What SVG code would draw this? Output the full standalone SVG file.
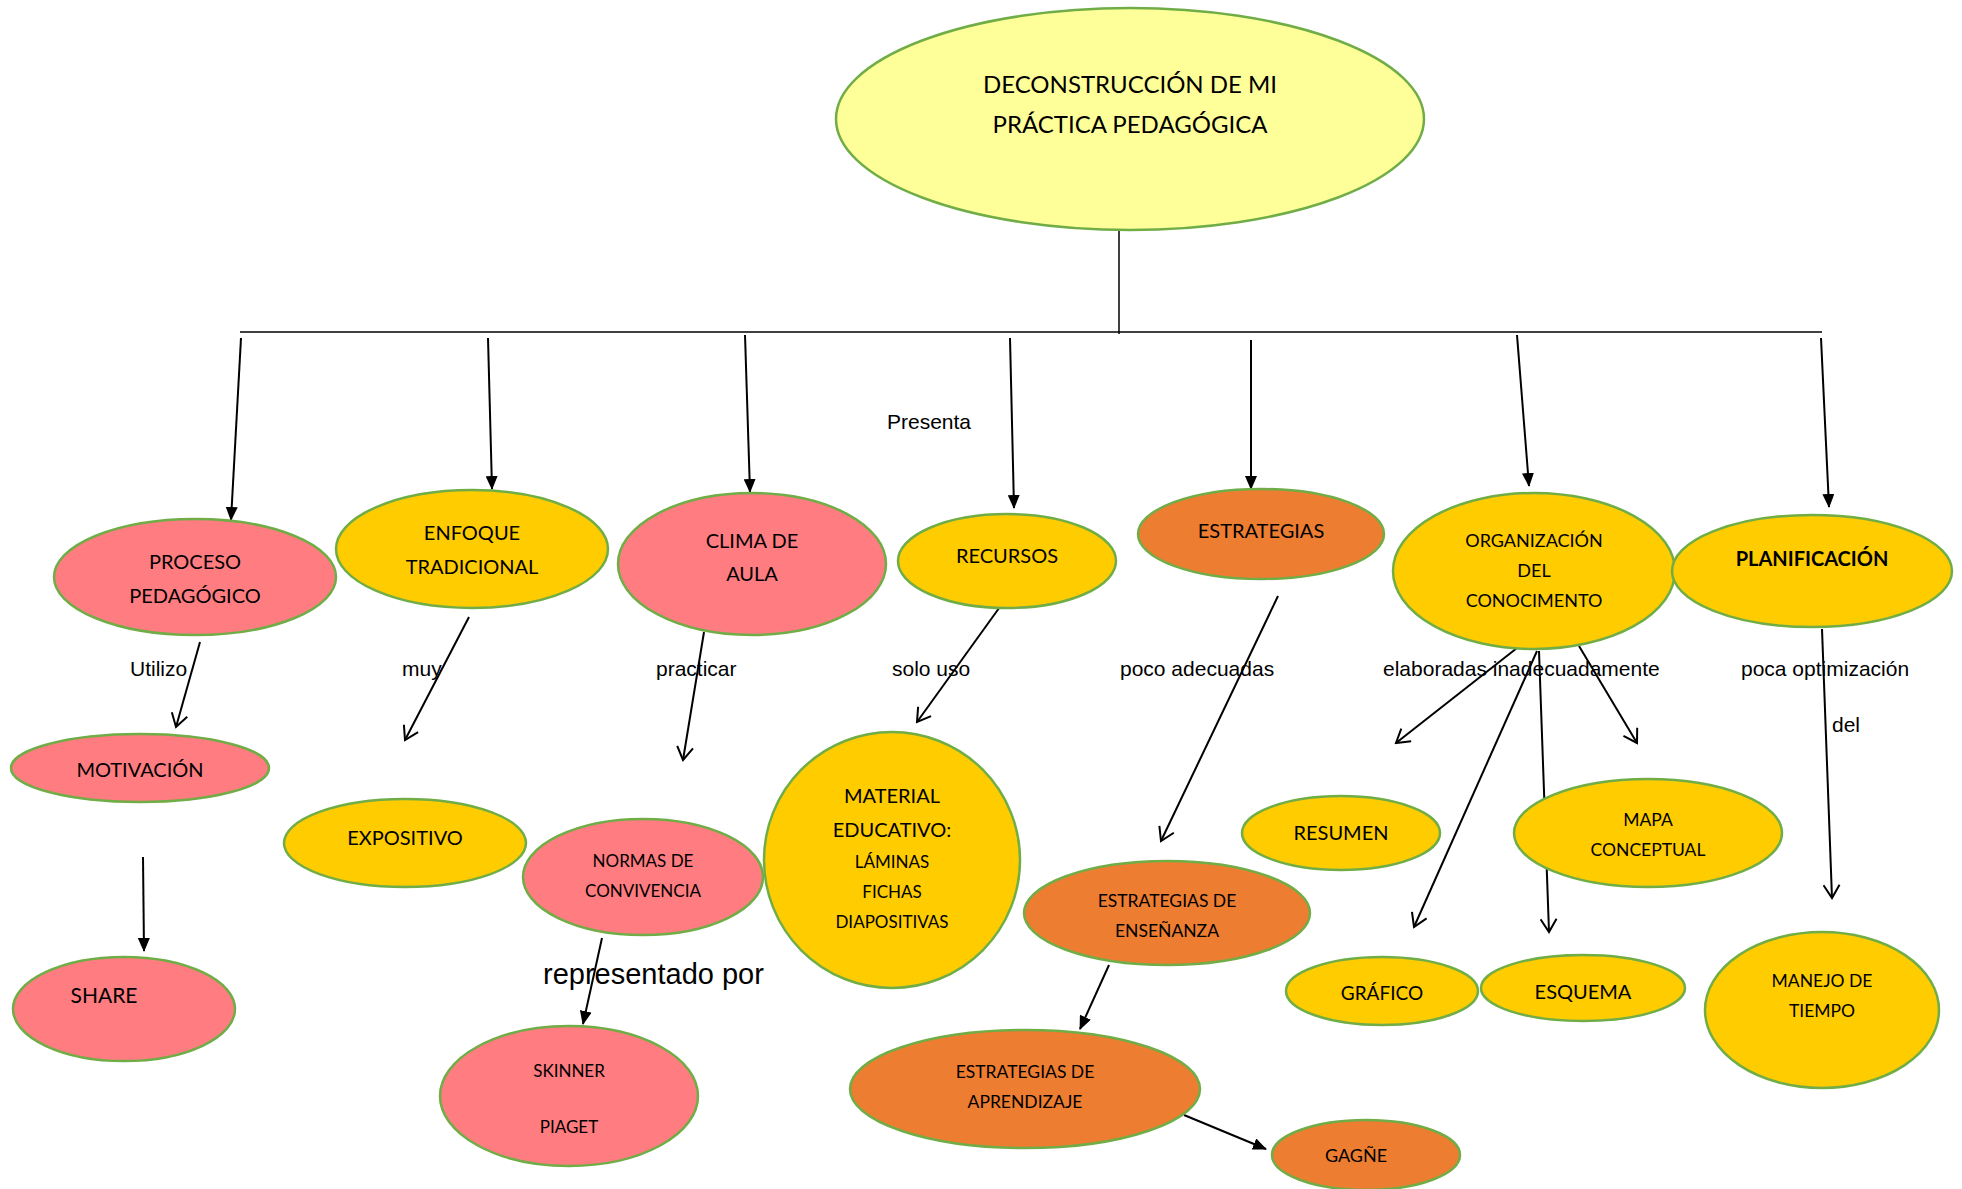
<svg xmlns="http://www.w3.org/2000/svg" width="1962" height="1189" viewBox="0 0 1962 1189">
<style>
.n{stroke:#70AD47;stroke-width:2.5}
.pink{fill:#FF7C80}
.yel{fill:#FFCC00}
.org{fill:#ED7D31}
.top{fill:#FFFF99}
.t{font-family:Lato,"Open Sans",sans-serif;fill:#000;text-anchor:middle}
.l{font-family:"Liberation Sans",Arial,sans-serif;font-size:21px;fill:#000}
.c{stroke:#000;stroke-width:2;fill:none}
.thin{stroke:#000;stroke-width:1.5;fill:none}
</style>
<defs>
<marker id="af" viewBox="0 0 14 12" refX="13" refY="6" markerWidth="14" markerHeight="12" markerUnits="userSpaceOnUse" orient="auto">
<path d="M0,0 L14,6 L0,12 z" fill="#000"/>
</marker>
<marker id="ao" viewBox="0 0 16 18" refX="14" refY="9" markerWidth="16" markerHeight="18" markerUnits="userSpaceOnUse" orient="auto">
<path d="M1,1 L14,9 L1,17" fill="none" stroke="#000" stroke-width="2"/>
</marker>
</defs>
<rect width="1962" height="1189" fill="#fff"/>

<g id="labels">
<text class="l" x="887" y="429">Presenta</text>
<text class="l" x="130" y="676">Utilizo</text>
<text class="l" x="402" y="676">muy</text>
<text class="l" x="656" y="676">practicar</text>
<text class="l" x="892" y="676">solo uso</text>
<text class="l" x="1120" y="676">poco adecuadas</text>
<text class="l" x="1383" y="676">elaboradas inadecuadamente</text>
<text class="l" x="1741" y="676">poca optimización</text>
<text class="l" x="1832" y="732">del</text>
<text class="l" x="543" y="984" style="font-size:29px">representado por</text>
</g>

<g id="connectors">
<line class="thin" x1="1119" y1="230" x2="1119" y2="334"/>
<line class="thin" x1="240" y1="332" x2="1822" y2="332"/>
<line class="c" x1="241" y1="338" x2="231" y2="520" marker-end="url(#af)"/>
<line class="c" x1="488" y1="338" x2="492" y2="489" marker-end="url(#af)"/>
<line class="c" x1="745" y1="335" x2="750" y2="492" marker-end="url(#af)"/>
<line class="c" x1="1010" y1="338" x2="1014" y2="508" marker-end="url(#af)"/>
<line class="c" x1="1251" y1="340" x2="1251" y2="489" marker-end="url(#af)"/>
<line class="c" x1="1517" y1="335" x2="1529" y2="486" marker-end="url(#af)"/>
<line class="c" x1="1821" y1="338" x2="1829" y2="507" marker-end="url(#af)"/>

<line class="c" x1="200" y1="642" x2="176" y2="727" marker-end="url(#ao)"/>
<line class="c" x1="143" y1="857" x2="144" y2="951" marker-end="url(#af)"/>
<line class="c" x1="469" y1="617" x2="405" y2="740" marker-end="url(#ao)"/>
<line class="c" x1="704" y1="632" x2="683" y2="760" marker-end="url(#ao)"/>
<line class="c" x1="1002" y1="604" x2="917" y2="722" marker-end="url(#ao)"/>
<line class="c" x1="1278" y1="596" x2="1161" y2="841" marker-end="url(#ao)"/>
<line class="c" x1="1517" y1="648" x2="1396" y2="743" marker-end="url(#ao)"/>
<line class="c" x1="1537" y1="651" x2="1414" y2="927" marker-end="url(#ao)"/>
<line class="c" x1="1539" y1="651" x2="1549" y2="932" marker-end="url(#ao)"/>
<line class="c" x1="1579" y1="646" x2="1637" y2="743" marker-end="url(#ao)"/>
<line class="c" x1="1822" y1="629" x2="1832" y2="898" marker-end="url(#ao)"/>
<line class="c" x1="602" y1="938" x2="583" y2="1024" marker-end="url(#af)"/>
<line class="c" x1="1109" y1="965" x2="1080" y2="1029" marker-end="url(#af)"/>
<line class="c" x1="1184" y1="1115" x2="1266" y2="1149" marker-end="url(#af)"/>
</g>

<g id="n-root">
<ellipse class="n top" cx="1130" cy="119" rx="294" ry="111"/>
<text class="t" x="1130" y="93" font-size="24">DECONSTRUCCIÓN DE MI</text>
<text class="t" x="1130" y="133" font-size="24">PRÁCTICA PEDAGÓGICA</text>
</g>
<g id="n-proceso">
<ellipse class="n pink" cx="195" cy="577" rx="141" ry="58"/>
<text class="t" x="195" y="569" font-size="20">PROCESO</text>
<text class="t" x="195" y="603" font-size="20">PEDAGÓGICO</text>
</g>
<g id="n-enfoque">
<ellipse class="n yel" cx="472" cy="549" rx="136" ry="59"/>
<text class="t" x="472" y="540" font-size="20">ENFOQUE</text>
<text class="t" x="472" y="574" font-size="20">TRADICIONAL</text>
</g>
<g id="n-clima">
<ellipse class="n pink" cx="752" cy="564" rx="134" ry="71"/>
<text class="t" x="752" y="548" font-size="20">CLIMA DE</text>
<text class="t" x="752" y="581" font-size="20">AULA</text>
</g>
<g id="n-recursos">
<ellipse class="n yel" cx="1007" cy="561" rx="109" ry="47"/>
<text class="t" x="1007" y="563" font-size="20">RECURSOS</text>
</g>
<g id="n-estrategias">
<ellipse class="n org" cx="1261" cy="534" rx="123" ry="45"/>
<text class="t" x="1261" y="538" font-size="20">ESTRATEGIAS</text>
</g>
<g id="n-organizacion">
<ellipse class="n yel" cx="1534" cy="571" rx="141" ry="78"/>
<text class="t" x="1534" y="547" font-size="18">ORGANIZACIÓN</text>
<text class="t" x="1534" y="577" font-size="18">DEL</text>
<text class="t" x="1534" y="607" font-size="18">CONOCIMENTO</text>
</g>
<g id="n-planificacion">
<ellipse class="n yel" cx="1812" cy="571" rx="140" ry="56"/>
<text class="t" x="1812" y="566" font-size="20" font-weight="bold">PLANIFICACIÓN</text>
</g>
<g id="n-motivacion">
<ellipse class="n pink" cx="140" cy="768" rx="129" ry="34"/>
<text class="t" x="140" y="777" font-size="20">MOTIVACIÓN</text>
</g>
<g id="n-expositivo">
<ellipse class="n yel" cx="405" cy="843" rx="121" ry="44"/>
<text class="t" x="405" y="845" font-size="20">EXPOSITIVO</text>
</g>
<g id="n-normas">
<ellipse class="n pink" cx="643" cy="877" rx="120" ry="58"/>
<text class="t" x="643" y="867" font-size="17">NORMAS DE</text>
<text class="t" x="643" y="897" font-size="17">CONVIVENCIA</text>
</g>
<g id="n-material">
<ellipse class="n yel" cx="892" cy="860" rx="128" ry="128"/>
<text class="t" x="892" y="803" font-size="20">MATERIAL</text>
<text class="t" x="892" y="837" font-size="20">EDUCATIVO:</text>
<text class="t" x="892" y="868" font-size="17">LÁMINAS</text>
<text class="t" x="892" y="898" font-size="17">FICHAS</text>
<text class="t" x="892" y="928" font-size="17">DIAPOSITIVAS</text>
</g>
<g id="n-share">
<ellipse class="n pink" cx="124" cy="1009" rx="111" ry="52"/>
<text class="t" x="104" y="1003" font-size="21">SHARE</text>
</g>
<g id="n-skinner">
<ellipse class="n pink" cx="569" cy="1096" rx="129" ry="70"/>
<text class="t" x="569" y="1077" font-size="17">SKINNER</text>
<text class="t" x="569" y="1133" font-size="17">PIAGET</text>
</g>
<g id="n-ensenanza">
<ellipse class="n org" cx="1167" cy="913" rx="143" ry="52"/>
<text class="t" x="1167" y="907" font-size="17.5">ESTRATEGIAS DE</text>
<text class="t" x="1167" y="937" font-size="17.5">ENSEÑANZA</text>
</g>
<g id="n-aprendizaje">
<ellipse class="n org" cx="1025" cy="1089" rx="175" ry="59"/>
<text class="t" x="1025" y="1078" font-size="17.5">ESTRATEGIAS DE</text>
<text class="t" x="1025" y="1108" font-size="17.5">APRENDIZAJE</text>
</g>
<g id="n-gagne">
<ellipse class="n org" cx="1366" cy="1155" rx="94" ry="35"/>
<text class="t" x="1356" y="1162" font-size="18">GAGÑE</text>
</g>
<g id="n-resumen">
<ellipse class="n yel" cx="1341" cy="833" rx="99" ry="37"/>
<text class="t" x="1341" y="840" font-size="20">RESUMEN</text>
</g>
<g id="n-mapa">
<ellipse class="n yel" cx="1648" cy="833" rx="134" ry="54"/>
<text class="t" x="1648" y="826" font-size="17.5">MAPA</text>
<text class="t" x="1648" y="856" font-size="17.5">CONCEPTUAL</text>
</g>
<g id="n-grafico">
<ellipse class="n yel" cx="1382" cy="991" rx="96" ry="34"/>
<text class="t" x="1382" y="1000" font-size="19">GRÁFICO</text>
</g>
<g id="n-esquema">
<ellipse class="n yel" cx="1583" cy="988" rx="102" ry="33"/>
<text class="t" x="1583" y="999" font-size="20">ESQUEMA</text>
</g>
<g id="n-manejo">
<ellipse class="n yel" cx="1822" cy="1010" rx="117" ry="78"/>
<text class="t" x="1822" y="987" font-size="17.5">MANEJO DE</text>
<text class="t" x="1822" y="1017" font-size="17.5">TIEMPO</text>
</g>
</svg>
